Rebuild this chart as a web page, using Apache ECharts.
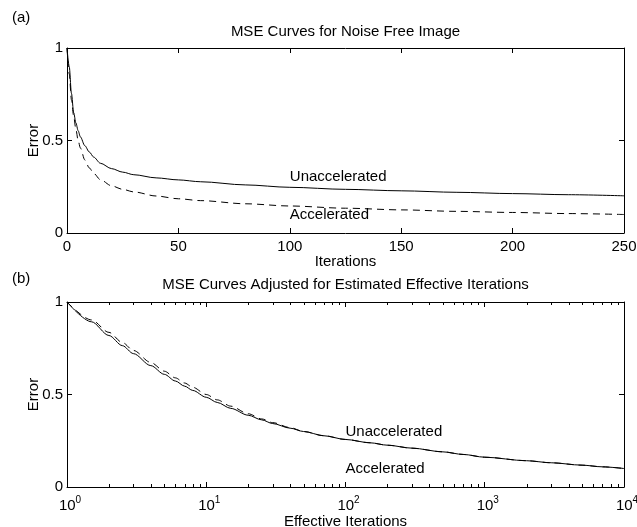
<!DOCTYPE html>
<html>
<head>
<meta charset="utf-8">
<script src="https://cdn.jsdelivr.net/npm/echarts@6/dist/echarts.min.js"></script>
<style>
  html, body { margin: 0; padding: 0; background: #fff; }
  #mse-chart { width: 637px; height: 527px; }
</style>
</head>
<body>
<div id="mse-chart"></div>
<script>
// (a) plain iterations
const iters = [0, 1, 2, 3, 4, 5, 6, 8, 10, 12, 15, 20, 25, 30, 40, 50, 60, 80, 100, 125, 150, 175, 200, 225, 250]
const unaccA = [1.0, 0.90, 0.755, 0.65, 0.595, 0.553, 0.52, 0.472, 0.438, 0.41, 0.377, 0.348, 0.329, 0.315, 0.298, 0.287, 0.277, 0.26, 0.247, 0.236, 0.228, 0.22, 0.213, 0.207, 0.201]
const accA = [1.0, 0.86, 0.72, 0.63, 0.56, 0.5, 0.46, 0.395, 0.352, 0.322, 0.288, 0.255, 0.236, 0.222, 0.2, 0.185, 0.175, 0.158, 0.146, 0.134, 0.125, 0.117, 0.111, 0.105, 0.1]

// (b) effective iterations (log axis)
const effIters = [1, 1.5, 2, 2.5, 3, 4, 5, 6, 7, 8, 10, 12, 15, 20, 25, 30, 40, 50, 70, 100, 150, 200, 300, 500, 700, 1000, 2000, 3000, 5000, 7000, 10000]
const unaccB = [1.0, 0.893, 0.819, 0.764, 0.721, 0.656, 0.609, 0.573, 0.545, 0.522, 0.485, 0.457, 0.425, 0.388, 0.363, 0.343, 0.318, 0.3, 0.277, 0.257, 0.239, 0.226, 0.21, 0.19, 0.176, 0.161, 0.142, 0.131, 0.118, 0.109, 0.1]
const accB = [1.0, 0.903, 0.836, 0.781, 0.738, 0.673, 0.626, 0.59, 0.562, 0.539, 0.5, 0.471, 0.437, 0.396, 0.368, 0.348, 0.321, 0.3, 0.277, 0.257, 0.239, 0.226, 0.21, 0.19, 0.176, 0.161, 0.142, 0.131, 0.118, 0.109, 0.1]

const errorTicks = [0, 0.5, 1]
const decades = [1, 10, 100, 1000]
const minorMult = [2, 3, 4, 5, 6, 7, 8, 9]

const FONT = "'Liberation Sans', Arial, Helvetica, sans-serif"
const black = '#000'

const minorTicks = []
decades.forEach(d => minorMult.forEach(m => minorTicks.push([d * m, 0])))

function pairs(xs, ys) {
  return xs.map((x, i) => [x, ys[i]])
}

function xAx(grid, pos, extra) {
  return Object.assign({
    gridIndex: grid,
    position: pos,
    nameMoveOverlap: false,
    axisLine: {show: true, onZero: false, lineStyle: {color: black, width: 1}},
    axisTick: {show: true, inside: true, length: 5, lineStyle: {color: black}},
    axisLabel: {show: pos === 'bottom', color: black, fontSize: 15, fontFamily: FONT, margin: 6},
    splitLine: {show: false},
  }, extra)
}

function yAx(grid, pos) {
  return {
    gridIndex: grid,
    type: 'value',
    position: pos,
    min: 0, max: 1, interval: 0.5,
    axisLine: {show: true, onZero: false, lineStyle: {color: black, width: 1}},
    axisTick: {show: true, inside: true, length: 5, lineStyle: {color: black}},
    axisLabel: {
      show: pos === 'left', color: black, fontSize: 15, fontFamily: FONT, margin: 4,
      formatter: v => errorTicks.indexOf(v) >= 0 ? String(v) : ''
    },
    splitLine: {show: false},
    name: pos === 'left' ? 'Error' : '',
    nameLocation: 'middle',
    nameGap: 26,
    nameMoveOverlap: false,
    nameTextStyle: {color: black, fontSize: 15, fontFamily: FONT},
  }
}

const logLabel = {
  show: true, color: black, fontFamily: FONT, margin: 8,
  formatter: v => '{b|10}{s|' + Math.round(Math.log10(v)) + '}',
  rich: {
    b: {fontSize: 15, fontFamily: FONT, color: black, padding: [0, 0, 0, 6]},
    s: {fontSize: 10, fontFamily: FONT, color: black, padding: [0, 0, 11, 0]},
  }
}

function lineSeries(xi, yi, data, dashed, tag, tagY) {
  return {
    type: 'line',
    xAxisIndex: xi,
    yAxisIndex: yi,
    data: data,
    showSymbol: false,
    symbol: 'none',
    silent: true,
    smooth: 0.3,
    smoothMonotone: 'x',
    lineStyle: {color: black, width: 1, type: dashed ? [7, 5] : 'solid'},
    markPoint: {
      symbol: 'circle',
      symbolSize: 0,
      silent: true,
      label: {show: true, position: 'right', distance: 0, color: black, fontSize: 15, fontFamily: FONT, formatter: tag},
      data: [{coord: [100, tagY]}]
    }
  }
}

const chart = echarts.init(document.getElementById('mse-chart'))
chart.setOption({
  animation: false,
  backgroundColor: '#fff',
  textStyle: {fontFamily: FONT, color: black},
  graphic: [
    {type: 'text', left: 12, top: 10, style: {text: '(a)', font: '15px ' + FONT, fill: black}},
    {type: 'text', x: 345.5, y: 32, style: {text: 'MSE Curves for Noise Free Image', font: '15px ' + FONT, fill: black, textAlign: 'center', textVerticalAlign: 'middle'}},
    {type: 'text', left: 12, top: 271, style: {text: '(b)', font: '15px ' + FONT, fill: black}},
    {type: 'text', x: 345.5, y: 285, style: {text: 'MSE Curves Adjusted for Estimated Effective Iterations', font: '15px ' + FONT, fill: black, textAlign: 'center', textVerticalAlign: 'middle'}},
  ],
  grid: [
    {left: 67, top: 48, width: 557, height: 185, outerBoundsMode: 'none'},
    {left: 67, top: 302, width: 557, height: 185, outerBoundsMode: 'none'},
  ],
  xAxis: [
    xAx(0, 'bottom', {
      type: 'value', min: 0, max: 250, interval: 50,
      name: 'Iterations', nameLocation: 'middle', nameGap: 21,
      nameTextStyle: {color: black, fontSize: 15, fontFamily: FONT}
    }),
    xAx(0, 'top', {type: 'value', min: 0, max: 250, interval: 50}),
    xAx(1, 'bottom', {
      type: 'log', logBase: 10, min: 1, max: 10000,
      axisLabel: logLabel,
      name: 'Effective Iterations', nameLocation: 'middle', nameGap: 27,
      nameTextStyle: {color: black, fontSize: 15, fontFamily: FONT}
    }),
    xAx(1, 'top', {type: 'log', logBase: 10, min: 1, max: 10000}),
  ],
  yAxis: [yAx(0, 'left'), yAx(0, 'right'), yAx(1, 'left'), yAx(1, 'right')],
  series: [
    lineSeries(0, 0, pairs(iters, unaccA), false, 'Unaccelerated', 0.303),
    lineSeries(0, 0, pairs(iters, accA), true, 'Accelerated', 0.097),
    lineSeries(2, 2, pairs(effIters, unaccB), false, 'Unaccelerated', 0.297),
    lineSeries(2, 2, pairs(effIters, accB), true, 'Accelerated', 0.097),
    {
      // minor ticks of the log axis, top and bottom edges
      type: 'custom',
      xAxisIndex: 2,
      yAxisIndex: 2,
      silent: true,
      clip: false,
      data: minorTicks,
      renderItem: function (params, api) {
        const b = api.coord([api.value(0), 0])
        const t = api.coord([api.value(0), 1])
        const x = Math.round(b[0]) + 0.5
        return {
          type: 'group',
          children: [
            {type: 'line', shape: {x1: x, y1: b[1], x2: x, y2: b[1] - 3}, style: {stroke: black, lineWidth: 1}},
            {type: 'line', shape: {x1: x, y1: t[1], x2: x, y2: t[1] + 3}, style: {stroke: black, lineWidth: 1}},
          ]
        }
      }
    }
  ]
})
</script>
</body>
</html>
